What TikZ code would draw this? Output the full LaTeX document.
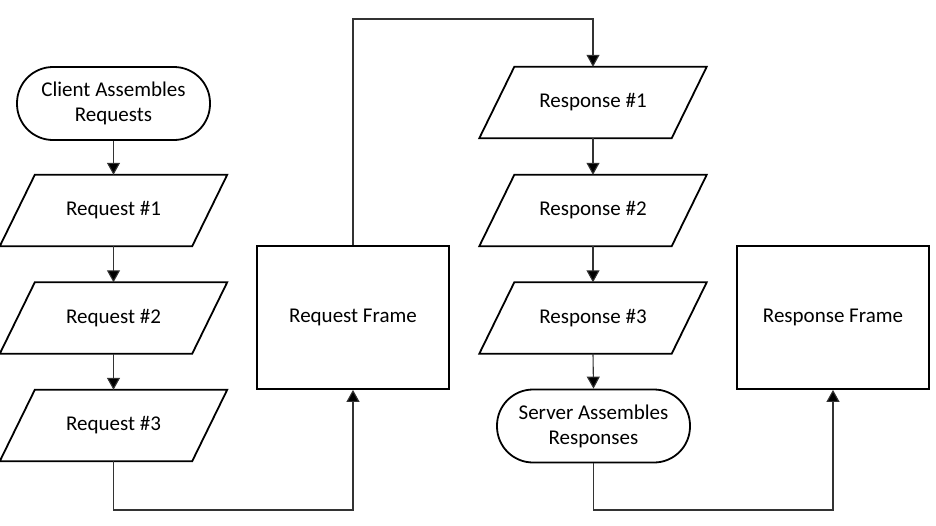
\documentclass[tikz,border=0pt]{standalone}
\usepackage{fontspec}
\setmainfont{Carlito}
\usetikzlibrary{arrows.meta,calc}
\begin{document}
\begin{tikzpicture}[x=1pt,y=-1pt,
  txt/.style={font=\fontsize{21}{25}\selectfont, align=center, inner sep=0pt, text=black},
  outline/.style={draw=black, line width=1.8pt, line join=miter},
  term/.style={txt, outline, rounded corners=36pt, minimum width=193pt, minimum height=73pt},
  para/.style={txt, minimum width=227pt, minimum height=71pt},
  frame/.style={txt, outline, minimum width=192pt, minimum height=143pt},
  conn/.style={draw=black!80, line width=1.1pt},
  arr/.style={conn, -{Triangle[length=12pt,width=13pt,fill=black]}}]
\useasboundingbox (0,0) rectangle (936,525);
\node[term] (client) at (113.5,103.5) {Client Assembles\\Requests};
\node[para] (r1) at (113.5,210.5) {Request \#1};
\node[para] (r2) at (113.5,318) {Request \#2};
\node[para] (r3) at (113.5,425.5) {Request \#3};
\node[frame] (rf) at (353,317.5) {Request Frame};
\node[para] (s1) at (593,102.5) {Response \#1};
\node[para] (s2) at (593,210.5) {Response \#2};
\node[para] (s3) at (593,318) {Response \#3};
\node[term] (server) at (593.5,426) {Server Assembles\\Responses};
\node[frame] (sf) at (833,317.5) {Response Frame};
\foreach \n in {r1,r2,r3,s1,s2,s3}
  \draw[outline] ($(\n.north west)+(35,0)$) -- (\n.north east) -- ($(\n.south east)+(-35,0)$) -- (\n.south west) -- cycle;
\coordinate (low) at (0,510);
\coordinate (high) at (0,19);
\draw[arr] (client.south) -- (r1.north);
\draw[arr] (r1.south) -- (r2.north);
\draw[arr] (r2.south) -- (r3.north);
\draw[arr] (r3.south) -- (r3.south |- low) -| (rf.south);
\draw[arr] (rf.north) -- (rf.north |- high) -| (s1.north);
\draw[arr] (s1.south) -- (s2.north);
\draw[arr] (s2.south) -- (s3.north);
\draw[arr] (s3.south) -- (server.north);
\draw[arr] (server.south) -- (server.south |- low) -| (sf.south);
\end{tikzpicture}
\end{document}
